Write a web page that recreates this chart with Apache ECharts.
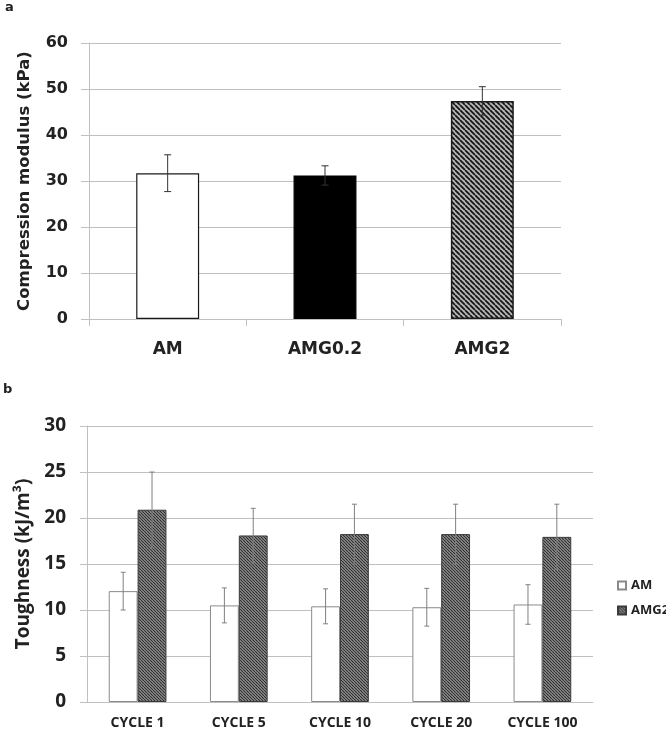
<!DOCTYPE html>
<html>
<head>
<meta charset="utf-8">
<script src="https://cdn.jsdelivr.net/npm/echarts@6/dist/echarts.min.js"></script>
<style>
html,body{margin:0;padding:0;background:#fff;}
#main{width:666px;height:732px;}
</style>
</head>
<body>
<div id="main"></div>
<script>
// ---- Data: panel a ----
const catsA = ['AM', 'AMG0.2', 'AMG2'];
const valsA = [31.7, 31.2, 47.4];
const errA = [4.0, 2.1, 3.1];
const ticksA = [0, 10, 20, 30, 40, 50, 60];

// ---- Data: panel b ----
const catsB = ['CYCLE 1', 'CYCLE 5', 'CYCLE 10', 'CYCLE 20', 'CYCLE 100'];
const amB = [12.05, 10.5, 10.4, 10.3, 10.6];
const amErrB = [2.05, 1.9, 1.9, 2.05, 2.15];
const amg2B = [20.9, 18.1, 18.25, 18.25, 17.95];
const amg2ErrB = [4.1, 2.95, 3.25, 3.25, 3.55];
const ticksB = [0, 5, 10, 15, 20, 25, 30];

function hatch(s, lw, bg, fg) {
  const c = document.createElement('canvas');
  c.width = s; c.height = s;
  const g = c.getContext('2d');
  g.fillStyle = bg; g.fillRect(0, 0, s, s);
  g.strokeStyle = fg; g.lineWidth = lw;
  g.beginPath();
  for (const o of [-s, 0, s]) { g.moveTo(o, 0); g.lineTo(o + s, s); }
  g.stroke();
  return c;
}
const hatchA = hatch(5, 1.7, '#b4b4b4', '#141414');
const hatchB = hatch(3, 1.2, '#9a9a9a', '#2e2e2e');

function errRenderer(idx, n, gap, capHalf, color, lw) {
  return function (params, api) {
    const x = api.value(0), y = api.value(1), e = api.value(2);
    const band = api.size([1, 0])[0];
    const bw = band * (1 - gap) / n;
    const cx = api.coord([x, y])[0] + (idx - (n - 1) / 2) * bw;
    const top = api.coord([x, y + e])[1];
    const bot = api.coord([x, y - e])[1];
    const st = { stroke: color, lineWidth: lw };
    return {
      type: 'group',
      children: [
        { type: 'line', shape: { x1: cx, y1: top, x2: cx, y2: bot }, style: st },
        { type: 'line', shape: { x1: cx - capHalf, y1: top, x2: cx + capHalf, y2: top }, style: st },
        { type: 'line', shape: { x1: cx - capHalf, y1: bot, x2: cx + capHalf, y2: bot }, style: st }
      ]
    };
  };
}

const fontA = 'DejaVu Sans';
const fontB = 'Open Sans';
const gridColor = '#c0c0c0';

const chart = echarts.init(document.getElementById('main'), null, { renderer: 'canvas' });
chart.setOption({
  animation: false,
  backgroundColor: '#fff',
  graphic: [
    { type: 'text', left: 5, top: 1, style: { text: 'a', font: 'bold 13px "DejaVu Sans"', fill: '#222' } },
    { type: 'text', left: 3, top: 383, style: { text: 'b', font: 'bold 13px "DejaVu Sans"', fill: '#222' } }
  ],
  legend: {
    show: true,
    orient: 'vertical',
    left: 612,
    top: 574,
    itemWidth: 8,
    itemHeight: 8,
    itemGap: 12,
    data: ['AM', 'AMG2 '],
    textStyle: { fontFamily: fontB, fontWeight: 'bold', fontSize: 13, color: '#222' },
    icon: 'rect'
  },
  grid: [
    { left: 89, top: 43, width: 472, height: 276 },
    { left: 87, top: 426, width: 506, height: 276 }
  ],
  xAxis: [
    {
      type: 'category', gridIndex: 0, data: catsA,
      axisLine: { lineStyle: { color: gridColor, width: 1 } },
      axisTick: { show: true, length: 7, lineStyle: { color: gridColor } },
      axisLabel: { margin: 22, fontFamily: fontA, fontWeight: 'bold', fontSize: 17, color: '#222' }
    },
    {
      type: 'category', gridIndex: 1, data: catsB,
      axisLine: { lineStyle: { color: gridColor, width: 1 } },
      axisTick: { show: false },
      axisLabel: { margin: 14, fontFamily: fontB, fontWeight: 'bold', fontSize: 14, color: '#222' }
    }
  ],
  yAxis: [
    {
      type: 'value', gridIndex: 0, min: ticksA[0], max: ticksA[ticksA.length - 1], interval: 10,
      name: 'Compression modulus (kPa)', nameLocation: 'middle', nameGap: 56,
      nameTextStyle: { fontFamily: fontA, fontWeight: 'bold', fontSize: 16.5, color: '#222' },
      axisLine: { show: true, lineStyle: { color: gridColor } },
      axisTick: { show: true, length: 8, lineStyle: { color: gridColor } },
      axisLabel: { margin: 21, fontFamily: fontA, fontWeight: 'bold', fontSize: 16, color: '#222' },
      splitLine: { lineStyle: { color: gridColor, width: 1.2 } }
    },
    {
      type: 'value', gridIndex: 1, min: ticksB[0], max: ticksB[ticksB.length - 1], interval: 5,
      name: 'Toughness (kJ/m³)', nameLocation: 'middle', nameGap: 54,
      nameTextStyle: { fontFamily: fontB, fontWeight: 'bold', fontSize: 19, color: '#222' },
      axisLine: { show: true, lineStyle: { color: gridColor } },
      axisTick: { show: true, length: 7, lineStyle: { color: gridColor } },
      axisLabel: { margin: 21, fontFamily: fontB, fontWeight: 'bold', fontSize: 19, color: '#222' },
      splitLine: { lineStyle: { color: gridColor, width: 1.2 } }
    }
  ],
  series: [
    {
      type: 'bar', name: 'A', xAxisIndex: 0, yAxisIndex: 0, barCategoryGap: '60%',
      data: valsA.map((v, i) => ({
        value: v,
        itemStyle: i === 0 ? { color: '#fff', borderColor: '#1a1a1a', borderWidth: 1.2 }
          : i === 1 ? { color: '#000', borderColor: '#000', borderWidth: 1.2 }
          : { color: { image: hatchA, repeat: 'repeat' }, borderColor: '#1a1a1a', borderWidth: 1.5 }
      }))
    },
    {
      type: 'custom', name: 'errA', xAxisIndex: 0, yAxisIndex: 0, z: 5,
      renderItem: errRenderer(0, 1, 0.6, 3.5, '#333', 1),
      data: valsA.map((v, i) => [i, v, errA[i]])
    },
    {
      type: 'bar', name: 'AM', xAxisIndex: 1, yAxisIndex: 1, barGap: '0%', barCategoryGap: '43%',
      itemStyle: { color: '#fff', borderColor: '#8a8a8a', borderWidth: 1 },
      data: amB
    },
    {
      type: 'bar', name: 'AMG2 ', xAxisIndex: 1, yAxisIndex: 1, barGap: '0%', barCategoryGap: '43%',
      itemStyle: { color: { image: hatchB, repeat: 'repeat' }, borderColor: '#3a3a3a', borderWidth: 1 },
      data: amg2B
    },
    {
      type: 'custom', name: 'errB1', xAxisIndex: 1, yAxisIndex: 1, z: 5,
      renderItem: errRenderer(0, 2, 0.43, 2.5, '#808080', 1),
      data: amB.map((v, i) => [i, v, amErrB[i]])
    },
    {
      type: 'custom', name: 'errB2', xAxisIndex: 1, yAxisIndex: 1, z: 5,
      renderItem: errRenderer(1, 2, 0.43, 2.5, '#808080', 1),
      data: amg2B.map((v, i) => [i, v, amg2ErrB[i]])
    }
  ]
});
</script>
</body>
</html>
